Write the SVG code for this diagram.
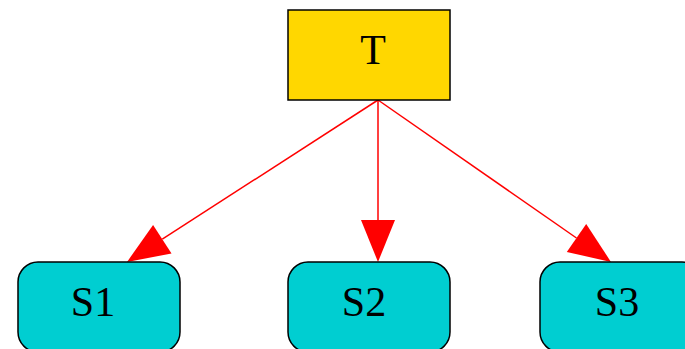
<svg xmlns="http://www.w3.org/2000/svg" width="685" height="349" viewBox="0 0 685 349">
  <defs>
    <style>
      .lbl { font-family: "Liberation Serif", "Times New Roman", serif; font-size: 42px; fill: #000; text-anchor: middle; }
      .root { fill: #FFD700; stroke: #000; stroke-width: 1.5; }
      .leaf { fill: #00CED1; stroke: #000; stroke-width: 1.5; }
      .edge { fill: none; stroke: #FF0000; stroke-width: 1.5; }
    </style>
    <marker id="head" markerUnits="userSpaceOnUse" markerWidth="42" markerHeight="34" refX="0" refY="17" orient="auto" overflow="visible">
      <path d="M0,0 L42,17 L0,34 z" fill="#FF0000"/>
    </marker>
  </defs>
  <rect width="685" height="349" fill="#FFFFFF"/>

  <g id="edges">
    <line class="edge" x1="378" y1="100" x2="162.3" y2="239.2" marker-end="url(#head)"/>
    <line class="edge" x1="378" y1="100" x2="378" y2="220" marker-end="url(#head)"/>
    <line class="edge" x1="378" y1="100" x2="576.5" y2="238" marker-end="url(#head)"/>
  </g>

  <g id="T">
    <rect class="root" x="288" y="10" width="162" height="90"/>
    <text class="lbl" x="373" y="64">T</text>
  </g>

  <g id="S1">
    <rect class="leaf" x="18" y="262" width="162" height="90" rx="20" ry="20"/>
    <text class="lbl" x="93" y="316">S1</text>
  </g>

  <g id="S2">
    <rect class="leaf" x="288" y="262" width="162" height="90" rx="20" ry="20"/>
    <text class="lbl" x="364" y="316">S2</text>
  </g>

  <g id="S3">
    <rect class="leaf" x="540" y="262" width="162" height="90" rx="20" ry="20"/>
    <text class="lbl" x="617" y="316">S3</text>
  </g>
</svg>
